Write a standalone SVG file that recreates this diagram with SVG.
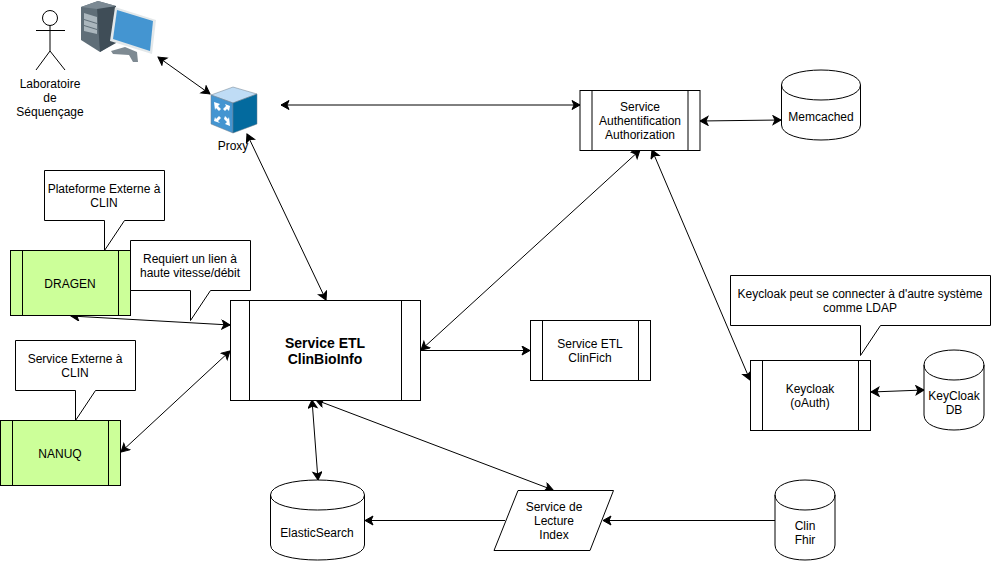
<svg xmlns="http://www.w3.org/2000/svg" width="991" height="561" viewBox="0 0 991 561">
<style>
text{font-family:"Liberation Sans",Arial,sans-serif;font-size:12px;fill:#000;text-anchor:middle}
.b{fill:#fff;stroke:#000;stroke-width:1}
.g{fill:#ccff99;stroke:#000;stroke-width:1}
.l{fill:none;stroke:#000;stroke-width:1}
.c{fill:none;stroke:#000;stroke-width:1;marker-end:url(#a)}
.d{marker-start:url(#a)}
.t{font-size:14px;font-weight:bold}
</style>
<defs>
<marker id="a" markerUnits="userSpaceOnUse" markerWidth="12" markerHeight="12" refX="9" refY="5" orient="auto-start-reverse"><path d="M1,0.5 L9,5 L1,9.500 L3,5 Z" fill="#000" stroke="#000" stroke-width="1"/></marker>
</defs>
<rect width="991" height="561" fill="#fff"/>
<g id="connectors">
<path class="c d" d="M158,57L210,94"/>
<path class="c d" d="M281,105L580,105"/>
<path class="c d" d="M700,121L781,120"/>
<path class="c d" d="M247,134L326,300"/>
<path class="c d" d="M71,316L230,325"/>
<path class="c d" d="M121,452L230,351"/>
<path class="c d" d="M421,350L640,150"/>
<path class="c" d="M421,350.500L530,350.500"/>
<path class="c d" d="M652,150L750,380"/>
<path class="c d" d="M871,392L924,390"/>
<path class="c d" d="M312,400L318,480"/>
<path class="c d" d="M316,400L553,490"/>
<path class="c" d="M505,520.500L365,520.500"/>
<path class="c" d="M775,520.500L603,520.500"/>
</g>
<g id="actor">
<circle class="l" cx="50" cy="18" r="7.500"/>
<path class="l" d="M50,25.500V51M36,30.500H65M50,51L36,70M50,51L65,70"/>
<text x="50" y="88">Laboratoire</text><text x="50" y="102">de</text><text x="50" y="116">Séquençage</text>
</g>
<g id="computer">
<path d="M81,7L98,1L116,6V42L100,52L81,40Z" fill="#5f6e78"/>
<path d="M97,8L116,6V43L100,52Z" fill="#3f4d57"/>
<path d="M81,7L98,1L116,6L97,9Z" fill="#7b8993"/>
<path d="M84,13L97,17V23L84,19ZM84,20L97,24V29L84,25ZM84,26L97,30V34L84,31Z" fill="#aab6bd"/>
<path d="M111,51L125,47L137,52L138,62L133,62L129,55L113,54Z" fill="#7e8a92"/>
<path d="M115,7L156,20L152,54L110,41Z" fill="#e3e8ea"/>
<path d="M117,10L153,21L150,51L113,39Z" fill="#4495d1"/>
</g>
<g id="proxy">
<path d="M211,95L233,87L257,94L233,103Z" fill="#bfdcf5" stroke="#6f7f8c" stroke-width=".5"/>
<path d="M211,95L233,103V133L211,124Z" fill="#4495d1" stroke="#6f7f8c" stroke-width=".5"/>
<path d="M233,103L257,94V124L233,133Z" fill="#036a9e" stroke="#6f7f8c" stroke-width=".5"/>
<path d="M214,102L220,104L218,106L221,109L219,111L216,108L215,110ZM230,106L225,104L226,106L223,109L225,111L227,109L229,111ZM214,121L220,123L218,121L221,118L219,116L216,119L215,117ZM230,126L225,124L227,122L224,119L225,116L228,119L229,117Z" fill="#fff"/>
<text x="233" y="150">Proxy</text>
</g>
<g id="auth">
<rect class="b" x="580" y="90.500" width="120" height="60"/>
<path class="l" d="M592,90.500V150.500M688,90.500V150.500"/>
<text x="640" y="111">Service</text><text x="640" y="125">Authentification</text><text x="640" y="139">Authorization</text>
</g>
<g id="memcached">
<path class="b" d="M781.500,85C781.500,65 860.500,65 860.500,85V125C860.500,145 781.500,145 781.500,125Z"/>
<path class="l" d="M781.500,85C781.500,105 860.500,105 860.500,85"/>
<text x="821" y="121">Memcached</text>
</g>
<g id="note-plateforme">
<path class="b" d="M44.500,170.500H164.500V220.500H124.500L104.500,250.500V220.500H44.500Z"/>
<text x="104" y="193">Plateforme Externe à</text><text x="104" y="207">CLIN</text>
</g>
<g id="dragen">
<rect class="g" x="10.500" y="250.500" width="120" height="65"/>
<path class="l" d="M22.500,250.500V315.500M118.500,250.500V315.500"/>
<text x="70" y="288">DRAGEN</text>
</g>
<g id="note-lien">
<path class="b" d="M130.500,240.500H250.500V290.500H210.500L190.500,320.500V290.500H130.500Z"/>
<text x="190" y="263">Requiert un lien à</text><text x="190" y="277">haute vitesse/débit</text>
</g>
<g id="note-service">
<path class="b" d="M15.500,340.500H135.500V390.500H95.500L75.500,420.500V390.500H15.500Z"/>
<text x="75" y="363">Service Externe à</text><text x="75" y="377">CLIN</text>
</g>
<g id="nanuq">
<rect class="g" x="0.500" y="420.500" width="120" height="65"/>
<path class="l" d="M12.500,420.500V485.500M108.500,420.500V485.500"/>
<text x="60" y="458">NANUQ</text>
</g>
<g id="etl-bio">
<rect class="b" x="230.500" y="300.500" width="190" height="100"/>
<path class="l" d="M249.500,300.500V400.500M401.500,300.500V400.500"/>
<text class="t" x="325" y="348">Service ETL</text><text class="t" x="325" y="364">ClinBioInfo</text>
</g>
<g id="etl-fich">
<rect class="b" x="530.500" y="320.500" width="120" height="60"/>
<path class="l" d="M542.500,320.500V380.500M638.500,320.500V380.500"/>
<text x="590" y="348">Service ETL</text><text x="590" y="362">ClinFich</text>
</g>
<g id="note-keycloak">
<path class="b" d="M730.500,275.500H990.500V325.500H880.500L860.500,355.500V325.500H730.500Z"/>
<text x="860" y="298">Keycloak peut se connecter à d'autre système</text><text x="860" y="312">comme LDAP</text>
</g>
<g id="keycloak">
<rect class="b" x="750.500" y="360.500" width="120" height="70"/>
<path class="l" d="M762.500,360.500V430.500M858.500,360.500V430.500"/>
<text x="810" y="393">Keycloak</text><text x="810" y="407">(oAuth)</text>
</g>
<g id="keycloak-db">
<path class="b" d="M924,365C924,345 984,345 984,365V415C984,435 924,435 924,415Z"/>
<path class="l" d="M924,365C924,385 984,385 984,365"/>
<text x="954" y="400">KeyCloak</text><text x="954" y="414">DB</text>
</g>
<g id="elastic">
<path class="b" d="M270.500,495C270.500,475 364.500,475 364.500,495V545C364.500,565 270.500,565 270.500,545Z"/>
<path class="l" d="M270.500,495C270.500,515 364.500,515 364.500,495"/>
<text x="317" y="537">ElasticSearch</text>
</g>
<g id="lecture">
<path class="b" d="M518,490.500H613.500L590,550.500H494Z"/>
<text x="554" y="511">Service de</text><text x="554" y="525">Lecture</text><text x="554" y="539">Index</text>
</g>
<g id="fhir">
<path class="b" d="M775,495C775,475 835,475 835,495V545C835,565 775,565 775,545Z"/>
<path class="l" d="M775,495C775,515 835,515 835,495"/>
<text x="805" y="530">Clin</text><text x="805" y="544">Fhir</text>
</g>
</svg>
